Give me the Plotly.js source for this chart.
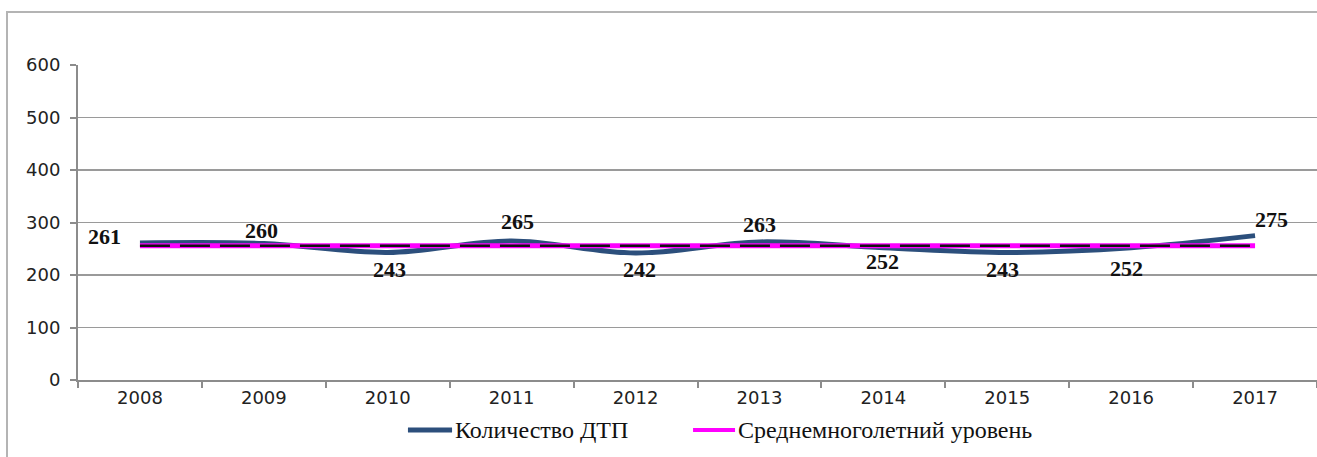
<!DOCTYPE html>
<html>
<head>
<meta charset="utf-8">
<script src="https://cdn.plot.ly/plotly-3.0.1.min.js"></script>
<style>
  html, body { margin: 0; padding: 0; background: #fff; }
  #wrap { position: relative; width: 1317px; height: 457px; overflow: hidden; }
  #chart { position: absolute; left: 0; top: 0; width: 1317px; height: 457px; }
  #frame { position: absolute; left: 6px; top: 11px; width: 1320px; height: 460px;
           border-left: 2px solid #b4b4b4; border-top: 2px solid #b4b4b4; pointer-events: none; }
</style>
</head>
<body>
<div id="wrap">
  <div id="chart"></div>
  <div id="frame"></div>
</div>
<script>
const years = ['2008','2009','2010','2011','2012','2013','2014','2015','2016','2017'];
const accidents = [261, 260, 243, 265, 242, 263, 252, 243, 252, 275];
const longTermAvg = [255.6, 255.6, 255.6, 255.6, 255.6, 255.6, 255.6, 255.6, 255.6, 255.6];
const seriesNames = ['Количество ДТП', 'Среднемноголетний уровень'];
const seriesColors = ['#2c4f7c', '#ff00ff'];
const yTicks = [0, 100, 200, 300, 400, 500, 600];

// label offsets (style only)
const labelShiftX = [-35, -2, 2, 6, 4, 0, -1, -5, -5, 16];
const labelShiftY = [6, 13, -17, 19, -17, 17, -14, -17, -21, 16];

// custom legend placement (paper coords, style only)
const legendY = -0.159;
const legendLineX = [[0.2663, 0.3019], [0.4964, 0.5303]];
const legendLineW = [5, 4];

const traces = [
  {
    x: years, y: accidents, name: seriesNames[0], type: 'scatter', mode: 'lines',
    line: { color: seriesColors[0], width: 5, shape: 'spline', smoothing: 1 }
  },
  {
    x: years, y: longTermAvg, name: seriesNames[1], type: 'scatter', mode: 'lines',
    line: { color: seriesColors[1], width: 5 }
  },
  {
    x: years, y: longTermAvg, type: 'scatter', mode: 'lines', showlegend: false,
    line: { color: '#111111', width: 2.5, dash: '30px,10px' }, hoverinfo: 'skip'
  }
];

const annotations = accidents.map((v, i) => ({
  x: i, y: v, xref: 'x', yref: 'y', text: '<b>' + String(v) + '</b>', showarrow: false,
  xshift: labelShiftX[i], yshift: labelShiftY[i],
  font: { family: 'Liberation Serif, Times New Roman, serif', size: 22, color: '#111' }
}));

const shapes = [];
seriesNames.forEach((name, k) => {
  shapes.push({
    type: 'line', xref: 'paper', yref: 'paper',
    x0: legendLineX[k][0], x1: legendLineX[k][1], y0: legendY, y1: legendY,
    line: { color: seriesColors[k], width: legendLineW[k] }
  });
  annotations.push({
    xref: 'paper', yref: 'paper', x: legendLineX[k][1] + 0.0005, y: legendY,
    xanchor: 'left', yanchor: 'middle', showarrow: false, text: name,
    font: { family: 'Liberation Serif, Times New Roman, serif', size: 24, color: '#111' }
  });
});

const layout = {
  width: 1317, height: 457,
  margin: { l: 78, r: 0, t: 65, b: 77 },
  paper_bgcolor: 'rgba(0,0,0,0)', plot_bgcolor: '#fff',
  showlegend: false,
  xaxis: {
    type: 'category', tickvals: years, ticktext: years,
    showgrid: false, showline: true, linecolor: '#8c8c8c', linewidth: 2,
    ticks: 'outside', tickson: 'boundaries', ticklen: 6, tickcolor: '#8c8c8c', tickwidth: 2,
    tickfont: { family: 'DejaVu Sans, Verdana, sans-serif', size: 18, color: '#222' },
    range: [-0.5, 9.5], fixedrange: true
  },
  yaxis: {
    range: [0, 600], tickvals: yTicks, ticktext: yTicks.map(String),
    showgrid: true, gridcolor: '#9a9a9a', gridwidth: 1.5,
    showline: true, linecolor: '#8c8c8c', linewidth: 2,
    ticks: 'outside', ticklen: 6, tickcolor: '#8c8c8c', tickwidth: 2, ticklabelstandoff: 6,
    tickfont: { family: 'DejaVu Sans, Verdana, sans-serif', size: 18, color: '#222' },
    zeroline: false, fixedrange: true
  },
  shapes: shapes,
  annotations: annotations
};

Plotly.newPlot('chart', traces, layout, { displayModeBar: false, staticPlot: true });
</script>
</body>
</html>
